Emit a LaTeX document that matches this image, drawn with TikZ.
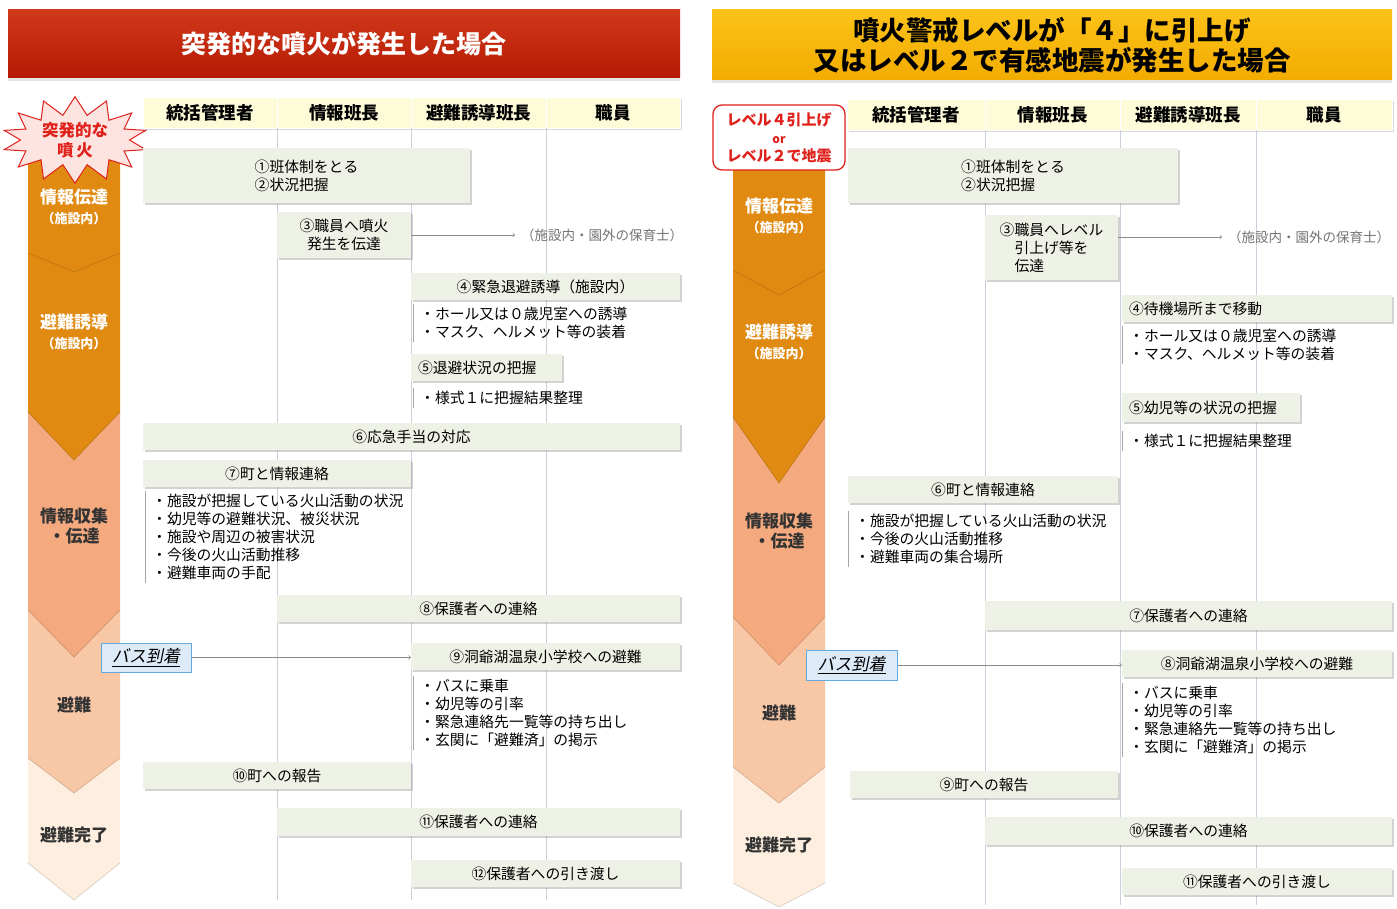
\documentclass[tikz,border=0pt]{standalone}
\usepackage{fontspec}
\setmainfont{Noto Sans CJK JP}
\newfontfamily\busfont{Noto Sans CJK JP}[FakeSlant=0.2]
\usepackage{tikz}
\usetikzlibrary{shadows}
\usetikzlibrary{arrows,shapes}
\definecolor{titleRedTop}{HTML}{D0381A}
\definecolor{titleRedBot}{HTML}{B41A02}
\definecolor{titleGoldTop}{HTML}{FCC21A}
\definecolor{titleGoldBot}{HTML}{F2AC00}
\definecolor{headFill}{HTML}{FDFBD8}
\definecolor{boxFill}{HTML}{EEF1E6}
\definecolor{phaseDark}{HTML}{E08A12}
\definecolor{phaseMid}{HTML}{F4AA7E}
\definecolor{phaseLight}{HTML}{F8C7A6}
\definecolor{phasePale}{HTML}{FDEEDF}
\definecolor{busFill}{HTML}{DDEBF8}
\definecolor{busLine}{HTML}{62AADF}
\definecolor{colLine}{HTML}{C9D0DC}
\definecolor{burstRed}{HTML}{E0201A}
\definecolor{burstFill}{HTML}{FDE4E0}
\tikzstyle{titlebar}=[minimum width=672pt, minimum height=68pt, align=center, font=\fontsize{25}{30}\selectfont\bfseries, drop shadow={shadow xshift=0pt, shadow yshift=-3pt, fill=black!20}]
\tikzstyle{headcell}=[fill=headFill, draw=white, line width=0.8pt, minimum height=31pt, inner sep=0pt, font=\fontsize{17.5}{19}\selectfont\bfseries, drop shadow={shadow xshift=1.5pt, shadow yshift=-2pt, fill=black!30}]
\tikzstyle{stepbox}=[fill=boxFill, minimum height=27pt, inner sep=3pt, font=\fontsize{14.8}{18}\selectfont, drop shadow={shadow xshift=1.5pt, shadow yshift=-2pt, fill=black!35}]
\tikzstyle{itemlist}=[anchor=north west, align=left, inner xsep=7pt, inner ysep=3pt, font=\fontsize{14.8}{18}\selectfont]
\tikzstyle{listline}=[draw=black!35, line width=0.6pt]
\tikzstyle{colline}=[draw=colLine, line width=0.8pt]
\tikzstyle{phaselbl}=[align=center, font=\fontsize{17}{20}\selectfont\bfseries]
\tikzstyle{notelbl}=[anchor=west, inner xsep=6pt, text=black!55, font=\fontsize{13.5}{15}\selectfont]
\tikzstyle{flowarrow}=[->, draw=black!45, line width=0.7pt]
\tikzstyle{busbox}=[fill=busFill, draw=busLine, line width=1pt, minimum width=90pt, minimum height=29pt, font=\fontsize{17}{20}\busfont]
\tikzstyle{burst}=[starburst, starburst points=14, starburst point height=18pt, random starburst=0, minimum width=145pt, minimum height=82pt, inner sep=0pt, fill=burstFill, draw=burstRed, line width=1pt, text=burstRed, align=center, font=\fontsize{16.5}{20}\selectfont\bfseries]
\tikzstyle{levelbox}=[rounded corners=9pt, fill=white, draw=burstRed, line width=1.3pt, minimum width=132pt, minimum height=65pt, text=burstRed, align=center, font=\fontsize{15}{18}\selectfont\bfseries]

\begin{document}
\begin{tikzpicture}[x=1pt, y=-1pt]
    \useasboundingbox (0,0) rectangle (1397,909);

    % titles
    \node[titlebar, top color=titleRedTop, bottom color=titleRedBot, text=white] (titleL) at (344,44) {突発的な噴火が発生した場合};
    \node[titlebar, minimum width=680pt, minimum height=70pt, top color=titleGoldTop, bottom color=titleGoldBot, font=\fontsize{26.5}{30}\selectfont\bfseries] (titleR) at (1052,45) {噴火警戒レベルが「４」に引上げ\\又はレベル２で有感地震が発生した場合};

    % column headers
    \foreach \pos/\w/\name/\txt in {{(210,112.5)/134/hLa/統括管理者}, {(344,112.5)/134/hLb/情報班長},
        {(478.5,112.5)/135/hLc/避難誘導班長}, {(613,112.5)/134/hLd/職員},
        {(916,114.5)/138/hRa/統括管理者}, {(1052.5,114.5)/135/hRb/情報班長},
        {(1188,114.5)/136/hRc/避難誘導班長}, {(1324,114.5)/136/hRd/職員}}
        \node[headcell, minimum width=\w pt] (\name) at \pos {\txt};
    \foreach \name in {hLa,hLb,hLc}
        \draw[colline] (\name.south east) -- ++(0,772);
    \foreach \name in {hRa,hRb,hRc}
        \draw[colline] (\name.south east) -- ++(0,775);

    % phase arrows
    \foreach \yt/\ys/\yp/\col in {758/863/900/phasePale, 610/758/793/phaseLight, 412/610/657/phaseMid, 253/412/460/phaseDark, 130/253/272/phaseDark} {
        \fill[\col] (28,\yt) -- (28,\ys) -- (74,\yp) -- (120,\ys) -- (120,\yt) -- cycle;
        \draw[\col!82!black, line width=0.5pt] (28,\ys) -- (74,\yp) -- (120,\ys);
    }
    \foreach \yt/\ys/\yp/\col in {767/883/907/phasePale, 617/767/803/phaseLight, 417/617/665/phaseMid, 270/417/483/phaseDark, 165/270/295/phaseDark} {
        \fill[\col] (733,\yt) -- (733,\ys) -- (779,\yp) -- (825,\ys) -- (825,\yt) -- cycle;
        \draw[\col!82!black, line width=0.5pt] (733,\ys) -- (779,\yp) -- (825,\ys);
    }
    \foreach \pos/\name/\txt in {{(74,207)/pLa/情報伝達\\{\fontsize{13}{16}\selectfont（施設内）}}, {(74,332)/pLb/避難誘導\\{\fontsize{13}{16}\selectfont（施設内）}},
        {(779,216)/pRa/情報伝達\\{\fontsize{13}{16}\selectfont（施設内）}}, {(779,342)/pRb/避難誘導\\{\fontsize{13}{16}\selectfont（施設内）}}}
        \node[phaselbl, text=white] (\name) at \pos {\txt};
    \foreach \pos/\name/\txt in {{(74,526)/pLc/情報収集\\・伝達}, {(74,705)/pLd/避難}, {(74,835)/pLe/避難完了},
        {(779,531)/pRc/情報収集\\・伝達}, {(779,713)/pRd/避難}, {(779,845)/pRe/避難完了}}
        \node[phaselbl, text=black!80] (\name) at \pos {\txt};

    \node[burst] (burstL) at (75,140) {突発的な\\噴\,火};
    \node[levelbox] (lvlR) at (779,137.5) {レベル４引上げ\\{\fontsize{12}{14}\selectfont or}\\レベル２で地震};

    % left steps
    \node[stepbox, minimum width=327pt, minimum height=55pt, align=left] (bL1) at (306.5,175.5) {①班体制をとる\\②状況把握};
    \node[stepbox, minimum width=134pt, minimum height=46pt, align=center] (bL3) at (344,235) {③職員へ噴火\\発生を伝達};
    \node[stepbox, minimum width=269pt] (bL4) at (545.5,286.5) {④緊急退避誘導（施設内）};
    \node[stepbox, text width=137pt, inner xsep=7pt, align=left] (bL5) at (486.5,367.5) {⑤退避状況の把握};
    \node[stepbox, minimum width=537pt] (bL6) at (411.5,436.5) {⑥応急手当の対応};
    \node[stepbox, minimum width=268pt] (bL7) at (277,473.5) {⑦町と情報連絡};
    \node[stepbox, minimum width=403pt] (bL8) at (478.5,608.5) {⑧保護者への連絡};
    \node[stepbox, minimum width=269pt] (bL9) at (545.5,656.5) {⑨洞爺湖温泉小学校への避難};
    \node[stepbox, minimum width=268pt] (bL10) at (277,775.5) {⑩町への報告};
    \node[stepbox, minimum width=403pt, minimum height=28pt] (bL11) at (478.5,822) {⑪保護者への連絡};
    \node[stepbox, minimum width=269pt] (bL12) at (545.5,873.5) {⑫保護者への引き渡し};

    \node[itemlist] (lL4) at (413,304) {・ホール又は０歳児室への誘導\\・マスク、ヘルメット等の装着};
    \node[itemlist] (lL5) at (413,388) {・様式１に把握結果整理};
    \node[itemlist] (lL7) at (145,491) {・施設が把握している火山活動の状況\\・幼児等の避難状況、被災状況\\・施設や周辺の被害状況\\・今後の火山活動推移\\・避難車両の手配};
    \node[itemlist] (lL9) at (413,676) {・バスに乗車\\・幼児等の引率\\・緊急連絡先一覧等の持ち出し\\・玄関に「避難済」の掲示};
    \foreach \name in {lL4,lL5,lL7,lL9}
        \draw[listline] (\name.north west) -- (\name.south west);

    \node[notelbl] (tL) at (515,235) {（施設内・園外の保育士）};
    \draw[flowarrow] (bL3.east) -- (tL.west);
    \node[busbox] (busL) at (146,657.5) {\underline{バス到着}};
    \draw[flowarrow] (busL.east) -- (busL.east -| bL9.west);

    % right steps
    \node[stepbox, minimum width=330pt, minimum height=55pt, align=left] (bR1) at (1013,175.5) {①班体制をとる\\②状況把握};
    \node[stepbox, minimum width=133pt, minimum height=65pt, align=left] (bR3) at (1051.5,247.5) {③職員へレベル\\\hspace*{1em}引上げ等を\\\hspace*{1em}伝達};
    \node[stepbox, text width=256pt, inner xsep=7pt, align=left] (bR4) at (1257,308.5) {④待機場所まで移動};
    \node[stepbox, text width=164pt, inner xsep=7pt, minimum height=29pt, align=left] (bR5) at (1211,407.5) {⑤幼児等の状況の把握};
    \node[stepbox, minimum width=270pt] (bR6) at (983,489.5) {⑥町と情報連絡};
    \node[stepbox, minimum width=407pt, minimum height=29pt] (bR7) at (1188.5,615.5) {⑦保護者への連絡};
    \node[stepbox, minimum width=270pt] (bR8) at (1257,663.5) {⑧洞爺湖温泉小学校への避難};
    \node[stepbox, minimum width=268pt] (bR9) at (984,784.5) {⑨町への報告};
    \node[stepbox, minimum width=407pt, minimum height=28pt] (bR10) at (1188.5,831) {⑩保護者への連絡};
    \node[stepbox, minimum width=270pt] (bR11) at (1257,881.5) {⑪保護者への引き渡し};

    \node[itemlist] (lR4) at (1122,326) {・ホール又は０歳児室への誘導\\・マスク、ヘルメット等の装着};
    \node[itemlist] (lR5) at (1122,431) {・様式１に把握結果整理};
    \node[itemlist] (lR6) at (848,511) {・施設が把握している火山活動の状況\\・今後の火山活動推移\\・避難車両の集合場所};
    \node[itemlist] (lR8) at (1122,683) {・バスに乗車\\・幼児等の引率\\・緊急連絡先一覧等の持ち出し\\・玄関に「避難済」の掲示};
    \foreach \name in {lR4,lR5,lR6,lR8}
        \draw[listline] (\name.north west) -- (\name.south west);

    \node[notelbl] (tR) at (1222,237) {（施設内・園外の保育士）};
    \draw[flowarrow] (bR3.east |- tR.west) -- (tR.west);
    \node[busbox, minimum width=91pt, minimum height=30pt] (busR) at (851.5,665) {\underline{バス到着}};
    \draw[flowarrow] (busR.east) -- (busR.east -| bR8.west);
\end{tikzpicture}
\end{document}
